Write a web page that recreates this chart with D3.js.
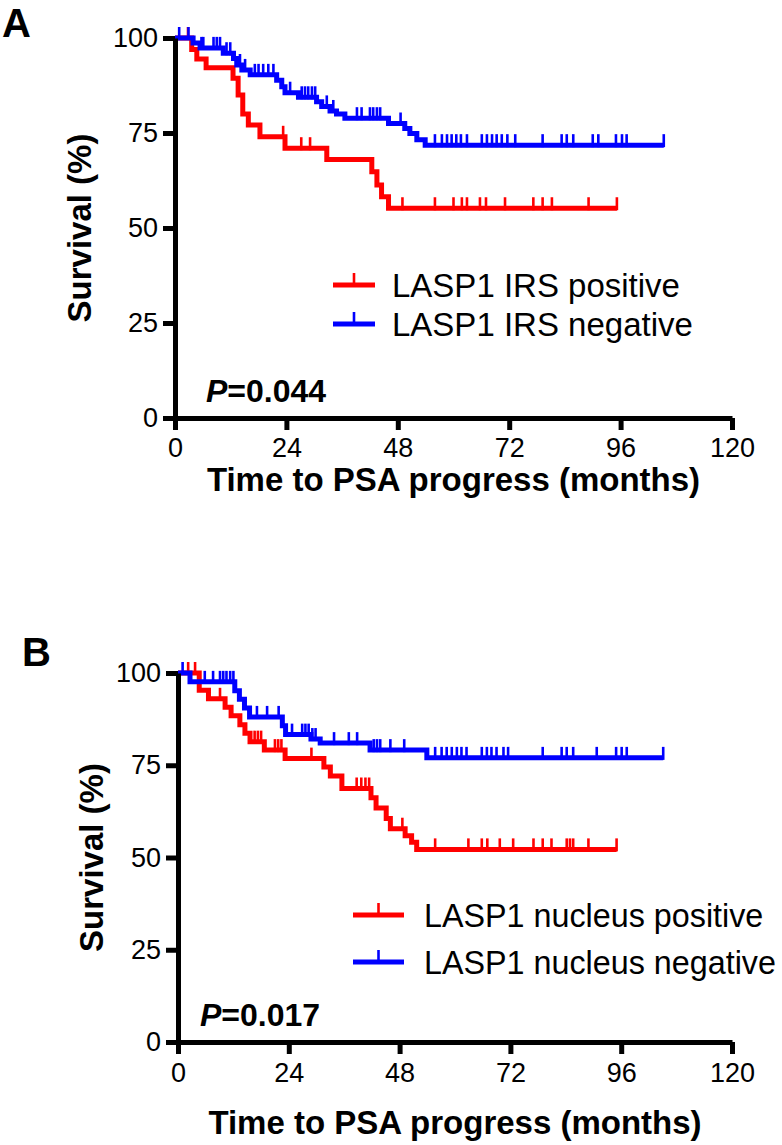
<!DOCTYPE html>
<html><head><meta charset="utf-8">
<script src="https://cdn.jsdelivr.net/npm/d3@7"></script>
<style>
body{margin:0;background:#fff}
svg{display:block}
text{font-family:"Liberation Sans",Arial,Helvetica,sans-serif;fill:#000}
</style>
</head><body>
<svg id="chart" width="782" height="1145"></svg>
<script>
// ---------- shared axis content ----------
const xTicks = [0, 24, 48, 72, 96, 120];
const yTicks = [0, 25, 50, 75, 100];
const xTitle = "Time to PSA progress (months)";
const yTitle = "Survival (%)";

// ---------- Panel A : LASP1 IRS ----------
const aLegend = ["LASP1 IRS positive", "LASP1 IRS negative"];
const aPValue = "0.044";
// positive (red): event times (months) and survival (%) after each step
const aRedTimes = [0, 3.6, 4.7, 6.7, 12.5, 13.6, 14.6, 15.8, 18.3, 23.7, 32.7, 42.4, 43.5, 44.5, 46.0];
const aRedSurv  = [100, 97.0, 94.5, 92.2, 89.4, 85.0, 80.0, 77.1, 74.0, 71.0, 68.0, 64.8, 61.3, 58.2, 55.2];
const aRedCensor = [2.8, 23.3, 27.2, 29.1, 49.0, 56.0, 60.0, 61.8, 62.9, 65.7, 67.0, 71.1, 77.2, 79.2, 81.2, 89.1, 95.2];
const aRedEnd = 95.2;
// negative (blue)
const aBlueTimes = [0, 3.9, 5.4, 10.4, 12.6, 13.3, 14.4, 16.2, 21.9, 23.0, 23.7, 26.6, 30.5, 31.6, 33.4, 34.8, 36.6, 46.0, 49.5, 50.6, 52.1, 53.9];
const aBlueSurv  = [100, 98.7, 97.4, 96.0, 94.6, 92.9, 91.6, 90.3, 88.9, 87.2, 85.6, 84.4, 83.2, 82.0, 80.8, 80.0, 78.9, 77.5, 76.2, 74.9, 73.2, 71.8];
const aBlueCensor = [0.9, 2.9, 5.7, 6.1, 8.3, 9.0, 9.7, 11.1, 11.9, 14.0, 15.1, 17.2, 18.0, 19.0, 20.1, 21.2, 24.8, 27.3, 28.0, 28.7, 29.5, 30.2, 32.7, 34.1, 39.2, 40.2, 42.0, 42.7, 43.5, 44.2, 48.6, 56.0, 57.5, 58.6, 59.6, 60.6, 61.6, 62.9, 66.1, 67.2, 68.3, 69.3, 70.4, 71.6, 73.3, 79.2, 83.3, 84.4, 85.8, 90.0, 91.2, 95.0, 96.3, 97.3, 105.3];
const aBlueEnd = 105.3;

// ---------- Panel B : LASP1 nucleus ----------
const bLegend = ["LASP1 nucleus positive", "LASP1 nucleus negative"];
const bPValue = "0.017";
const bRedTimes = [0, 4.6, 6.6, 10.2, 11.5, 13.4, 14.5, 15.6, 18.7, 23.2, 31.6, 33.0, 35.5, 41.8, 42.9, 45.1, 46.0, 49.2, 50.6, 51.7];
const bRedSurv  = [100, 95.3, 93.0, 90.7, 88.4, 86.0, 83.7, 81.4, 79.1, 76.8, 74.5, 72.1, 68.7, 66.2, 63.4, 60.6, 57.8, 55.9, 54.1, 52.2];
const bRedCensor = [2.2, 3.7, 9.1, 16.6, 17.3, 18.0, 21.0, 21.7, 22.4, 28.9, 38.7, 39.7, 40.6, 41.4, 48.6, 55.7, 62.9, 65.8, 67.0, 69.7, 72.6, 77.0, 79.0, 80.9, 84.2, 84.9, 85.6, 88.9, 95.0];
const bRedEnd = 95.0;
const bBlueTimes = [0, 2.6, 12.3, 13.3, 14.4, 15.5, 22.6, 23.3, 28.8, 30.8, 41.6, 53.9];
const bBlueSurv  = [100, 97.6, 95.2, 92.9, 90.5, 88.1, 85.7, 83.3, 82.1, 81.0, 79.1, 77.0];
const bBlueCensor = [1.0, 5.8, 7.6, 9.1, 9.8, 10.5, 11.3, 12.0, 17.1, 19.3, 21.8, 24.7, 26.9, 27.6, 28.3, 29.1, 29.8, 33.8, 37.0, 38.8, 42.4, 43.1, 43.8, 46.0, 49.0, 55.7, 57.1, 58.2, 59.3, 60.4, 61.4, 62.5, 65.8, 66.9, 67.9, 69.0, 70.5, 71.5, 79.0, 83.1, 84.2, 85.6, 90.7, 94.9, 96.1, 97.2, 105.1];
const bBlueEnd = 105.1;

const RED = "#ff0000", BLUE = "#0000ff";

const panels = [
  { letter: "A", lx: 2, ly: 37, x0: 175, x1: 732, yTop: 38, yBot: 418,
    xLabPad: 8, xTitleY: 491, yTitleX: 91,
    legX: 333, legY: [285, 324], legLen: 42, legTextX: 392, legSize: 33,
    pX: 206, pY: 402,
    legend: aLegend, p: aPValue,
    series: [
      { color: RED, times: aRedTimes, surv: aRedSurv, censor: aRedCensor, end: aRedEnd },
      { color: BLUE, times: aBlueTimes, surv: aBlueSurv, censor: aBlueCensor, end: aBlueEnd }
    ] },
  { letter: "B", lx: 22, ly: 666, x0: 178, x1: 732, yTop: 673, yBot: 1042,
    xLabPad: 9, xTitleY: 1134, yTitleX: 103,
    legX: 353, legY: [915, 962], legLen: 51, legTextX: 424, legSize: 32.3,
    pX: 200, pY: 1026,
    legend: bLegend, p: bPValue,
    series: [
      { color: RED, times: bRedTimes, surv: bRedSurv, censor: bRedCensor, end: bRedEnd },
      { color: BLUE, times: bBlueTimes, surv: bBlueSurv, censor: bBlueCensor, end: bBlueEnd }
    ] }
];

const svg = d3.select("#chart");

panels.forEach(P => {
  const g = svg.append("g");
  const x = d3.scaleLinear().domain([0, 120]).range([P.x0, P.x1]);
  const y = d3.scaleLinear().domain([0, 100]).range([P.yBot, P.yTop]);

  // curves
  P.series.forEach(S => {
    const pts = S.times.map((t, i) => [t, S.surv[i]]);
    pts.push([S.end, S.surv[S.surv.length - 1]]);
    const line = d3.line().x(d => x(d[0])).y(d => y(d[1])).curve(d3.curveStepAfter);
    g.append("path").attr("d", line(pts)).attr("fill", "none")
      .attr("stroke", S.color).attr("stroke-width", 5).attr("stroke-linejoin", "miter");
    const survAt = t => {
      let s = 100;
      for (let i = 0; i < S.times.length; i++) if (S.times[i] <= t) s = S.surv[i];
      return s;
    };
    g.selectAll(null).data(S.censor).enter().append("line")
      .attr("x1", d => x(d)).attr("x2", d => x(d))
      .attr("y1", d => y(survAt(d)) + 2).attr("y2", d => y(survAt(d)) - 11)
      .attr("stroke", S.color).attr("stroke-width", 2.6);
  });

  // axes
  const yAxis = d3.axisLeft(y).tickValues(yTicks).tickSize(12).tickSizeOuter(0).tickPadding(5);
  const xAxis = d3.axisBottom(x).tickValues(xTicks).tickSize(12).tickSizeOuter(0).tickPadding(P.xLabPad);
  const ya = g.append("g").attr("transform", `translate(${P.x0},0)`).call(yAxis);
  const xa = g.append("g").attr("transform", `translate(0,${P.yBot})`).call(xAxis);
  [ya, xa].forEach(a => {
    a.select(".domain").attr("stroke", "#000").attr("stroke-width", 5);
    a.selectAll(".tick line").attr("stroke", "#000").attr("stroke-width", 5);
    a.selectAll(".tick text").attr("font-size", 27).attr("fill", "#000")
      .attr("font-family", '"Liberation Sans",Arial,sans-serif');
  });

  // axis titles
  g.append("text").attr("x", (P.x0 + P.x1) / 2).attr("y", P.xTitleY)
    .attr("text-anchor", "middle").attr("font-size", 33).attr("font-weight", "bold").text(xTitle);
  g.append("text").attr("transform", `translate(${P.yTitleX},${(P.yTop + P.yBot) / 2}) rotate(-90)`)
    .attr("text-anchor", "middle").attr("font-size", 33).attr("font-weight", "bold").text(yTitle);

  // panel letter
  g.append("text").attr("x", P.lx).attr("y", P.ly).attr("font-size", 40).attr("font-weight", "bold").text(P.letter);

  // legend
  P.series.forEach((S, i) => {
    const ly = P.legY[i];
    g.append("line").attr("x1", P.legX).attr("x2", P.legX + P.legLen).attr("y1", ly).attr("y2", ly)
      .attr("stroke", S.color).attr("stroke-width", 5);
    g.append("line").attr("x1", P.legX + P.legLen / 2).attr("x2", P.legX + P.legLen / 2)
      .attr("y1", ly).attr("y2", ly - 12).attr("stroke", S.color).attr("stroke-width", 2.6);
    g.append("text").attr("x", P.legTextX).attr("y", ly + 12).attr("font-size", P.legSize).text(P.legend[i]);
  });

  // p-value
  const pt = g.append("text").attr("x", P.pX).attr("y", P.pY).attr("font-size", 32).attr("font-weight", "bold");
  pt.append("tspan").attr("font-style", "italic").text("P");
  pt.append("tspan").text("=" + P.p);
});
</script>
</body></html>
